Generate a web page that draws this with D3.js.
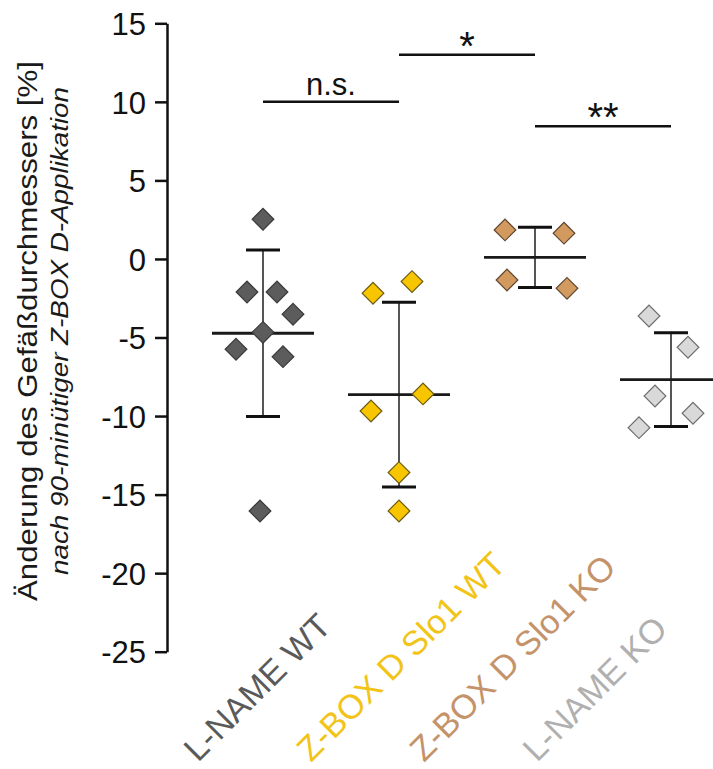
<!DOCTYPE html>
<html>
<head>
<meta charset="utf-8">
<script src="https://cdn.jsdelivr.net/npm/d3@7/dist/d3.min.js"></script>
<style>
  html, body { margin: 0; padding: 0; background: #fff; }
  svg { display: block; font-family: "Liberation Sans", Arial, sans-serif; }
</style>
</head>
<body>
<svg id="chart" width="713" height="769"></svg>
<script>
// Groups and their measurements (% change of vessel diameter)
const categories = ["L-NAME WT", "Z-BOX D Slo1 WT", "Z-BOX D Slo1 KO", "L-NAME KO"];
const lnameWT   = [2.53, -2.10, -2.10, -3.52, -4.67, -5.75, -6.22, -16.04];
const zboxWT    = [-2.18, -1.44, -8.59, -9.68, -13.60, -16.04];
const zboxKO    = [1.85, 1.64, -1.34, -1.87];
const lnameKO   = [-3.63, -5.62, -8.72, -9.82, -10.74];
const groupValues = [lnameWT, zboxWT, zboxKO, lnameKO];
const means = [-4.73, -8.63, 0.10, -7.68];
const sds   = [5.30, 5.88, 1.91, 2.99];
const yTicks = [15, 10, 5, 0, -5, -10, -15, -20, -25];

// Significance brackets between neighbouring groups
const sigPairs  = [[0, 1], [1, 2], [2, 3]];
const sigLabels = ["n.s.", "*", "**"];
const sigLevels = [10, 13, 8.45];

// Styling
const fillColors   = ["#5c5c5c", "#f7c600", "#d39a60", "#d9d9d9"];
const strokeColors = ["#3a3a3a", "#6d5a10", "#5e4630", "#6e6e6e"];
const labelColors  = ["#5a5a5a", "#f2c418", "#c4936a", "#b0b0b0"];
// horizontal scatter of the points inside each group (px)
const jitter = [
  [0, -16, 14, 30, 0, -27, 20, -3],
  [-26, 13, 24, -28, 0, 0],
  [-30, 29, -28, 32],
  [-22, 17, -16, 22, -32]
];

const svg = d3.select("#chart");
svg.append("rect").attr("width", 713).attr("height", 769).attr("fill", "#fff");

const y = d3.scaleLinear().domain([-25, 15]).range([651.7, 23.3]);
const x = d3.scalePoint().domain(categories).range([263, 671]);
const labelX = d3.scalePoint().domain(categories).range([198, 537]);

// Y axis
const axis = svg.append("g")
  .attr("transform", "translate(167,0)")
  .call(d3.axisLeft(y).tickValues(yTicks).tickSize(12).tickSizeOuter(0).tickPadding(9)
    .tickFormat(d3.format("d")));
axis.select(".domain").attr("stroke", "#111").attr("stroke-width", 2.5);
axis.selectAll(".tick line").attr("stroke", "#111").attr("stroke-width", 2.5);
axis.selectAll(".tick text")
  .attr("fill", "#111")
  .style("font-size", "31px")
  .style("font-family", "'Liberation Sans', Arial, sans-serif")
  .attr("dy", "0.36em")
  .text(d => d < 0 ? "-" + Math.abs(d) : d);

// Axis titles
svg.append("text")
  .attr("transform", "translate(37,331) rotate(-90)")
  .attr("text-anchor", "middle")
  .attr("fill", "#1a1a1a")
  .style("font-size", "28px")
  .attr("textLength", 540)
  .attr("lengthAdjust", "spacingAndGlyphs")
  .text("Änderung des Gefäßdurchmessers [%]");
svg.append("text")
  .attr("transform", "translate(68,331) rotate(-90)")
  .attr("text-anchor", "middle")
  .attr("fill", "#1a1a1a")
  .style("font-size", "23px")
  .style("font-style", "italic")
  .attr("textLength", 488)
  .attr("lengthAdjust", "spacingAndGlyphs")
  .text("nach 90-minütiger Z-BOX D-Applikation");

// Mean ± SD
const stats = svg.append("g");
categories.forEach((c, i) => {
  const cx = x(c);
  stats.append("line")
    .attr("x1", cx).attr("x2", cx)
    .attr("y1", y(means[i] + sds[i])).attr("y2", y(means[i] - sds[i]))
    .attr("stroke", "#2a2a2a").attr("stroke-width", 1.6);
  [means[i] + sds[i], means[i] - sds[i]].forEach(v => {
    stats.append("line")
      .attr("x1", cx - 17).attr("x2", cx + 17)
      .attr("y1", y(v)).attr("y2", y(v))
      .attr("stroke", "#111").attr("stroke-width", 3);
  });
  stats.append("line")
    .attr("x1", cx - 51).attr("x2", cx + 51)
    .attr("y1", y(means[i])).attr("y2", y(means[i]))
    .attr("stroke", "#1a1a1a").attr("stroke-width", 2.8);
});

// Individual points as diamonds
const diamond = d3.symbol().type(d3.symbolSquare).size(235);
categories.forEach((c, i) => {
  svg.append("g").selectAll("path")
    .data(groupValues[i])
    .join("path")
    .attr("d", diamond)
    .attr("transform", (d, j) => `translate(${x(c) + jitter[i][j]},${y(d)}) rotate(45)`)
    .attr("fill", fillColors[i])
    .attr("stroke", strokeColors[i])
    .attr("stroke-width", 1.2);
});

// Significance brackets
sigPairs.forEach(([a, b], k) => {
  const x1 = x(categories[a]), x2 = x(categories[b]);
  const ly = y(sigLevels[k]);
  svg.append("line")
    .attr("x1", x1).attr("x2", x2).attr("y1", ly).attr("y2", ly)
    .attr("stroke", "#111").attr("stroke-width", 2.5);
  const isStar = sigLabels[k].startsWith("*");
  svg.append("text")
    .attr("x", (x1 + x2) / 2)
    .attr("y", isStar ? ly + 5 : ly - 7)
    .attr("text-anchor", "middle")
    .attr("fill", "#111")
    .style("font-size", isStar ? "40px" : "31px")
    .text(sigLabels[k]);
});

// Category labels, rotated
svg.append("g").selectAll("text")
  .data(categories)
  .join("text")
  .attr("transform", d => `translate(${labelX(d)},763) rotate(-45)`)
  .attr("fill", (d, i) => labelColors[i])
  .style("font-size", "34px")
  .text(d => d);
</script>
</body>
</html>
